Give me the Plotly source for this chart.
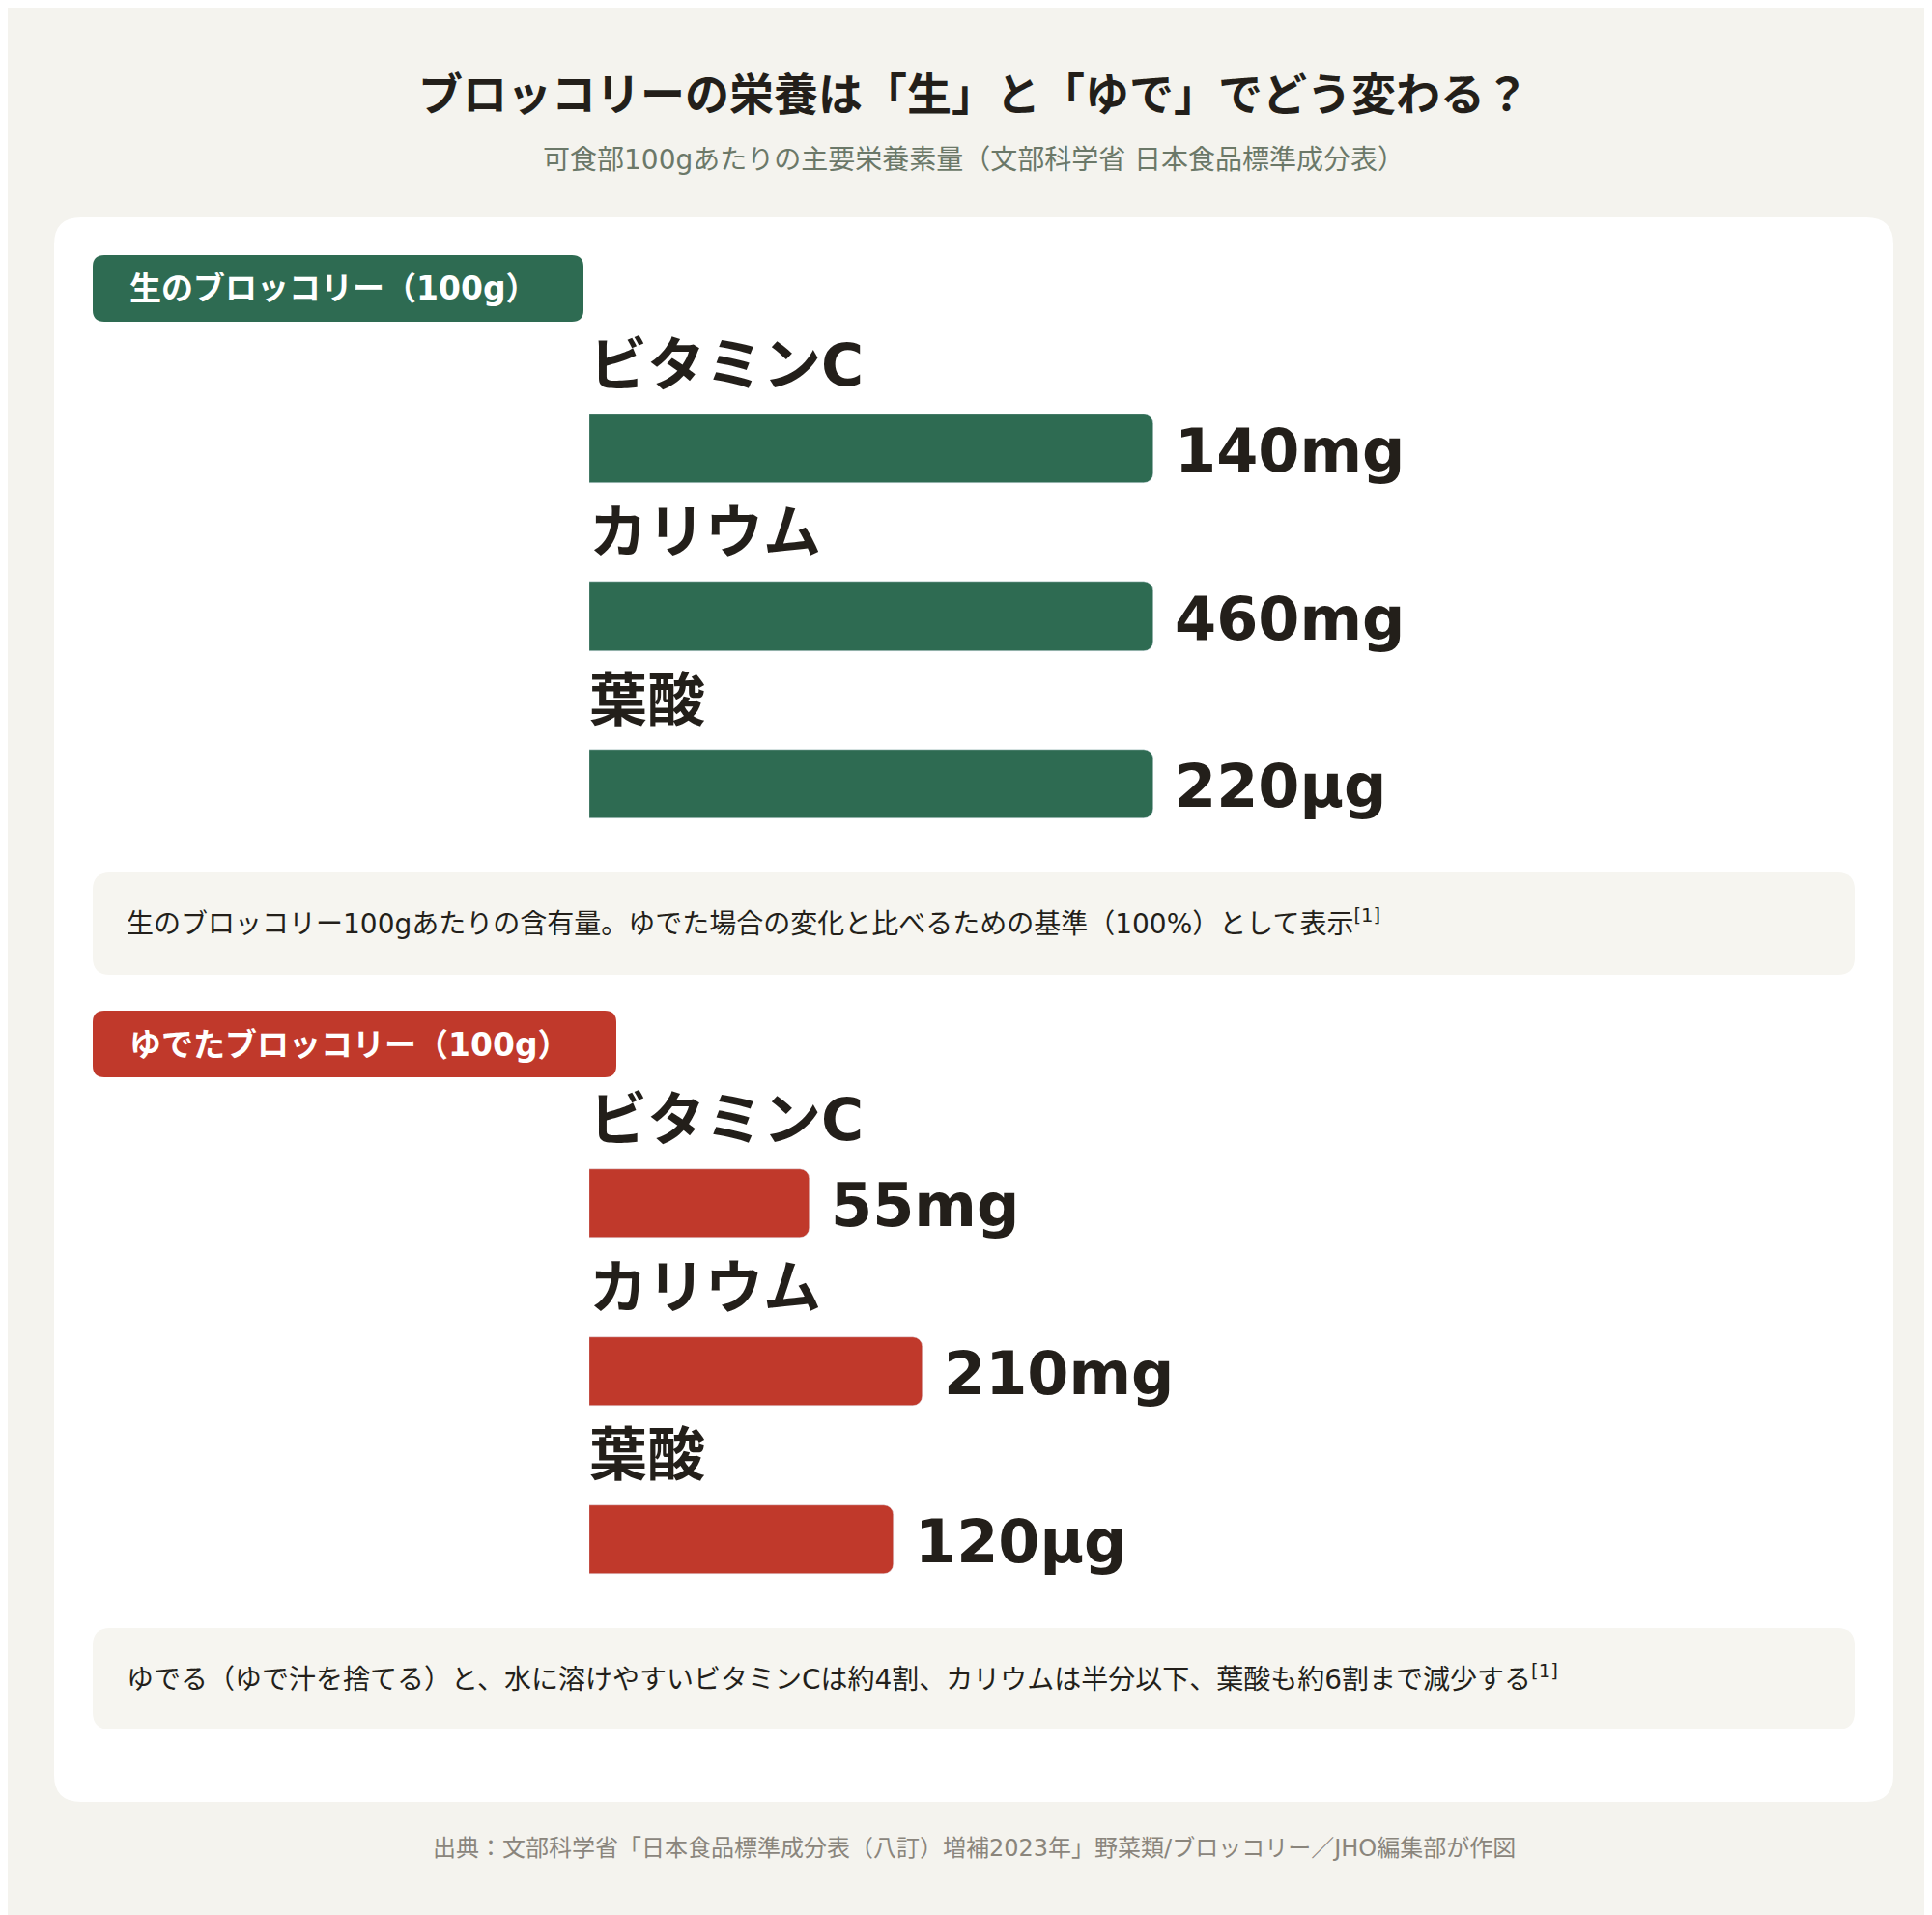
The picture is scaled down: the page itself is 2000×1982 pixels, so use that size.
import plotly.graph_objects as go

W, H = 2000, 1982

nutrients = ["ビタミンC", "カリウム", "葉酸"]
raw_labels = ["140mg", "460mg", "220µg"]
boiled_labels = ["55mg", "210mg", "120µg"]
# bar length (% of raw)
raw_pct = [100, 100, 100]
boiled_pct = [39, 59, 54]

GREEN = "#2e6b52"
RED = "#c0392b"
INK = "#231f1a"
FONT = "DejaVu Sans, Noto Sans CJK JP"


def px(x):
    return x / W


def py(y):
    return 1 - y / H


def rrect(x0, y0, x1, y1, r, fill):
    # rounded rect in pixel coords -> paper path
    p = (f"M {px(x0 + r)},{py(y0)} L {px(x1 - r)},{py(y0)} "
         f"Q {px(x1)},{py(y0)} {px(x1)},{py(y0 + r)} L {px(x1)},{py(y1 - r)} "
         f"Q {px(x1)},{py(y1)} {px(x1 - r)},{py(y1)} L {px(x0 + r)},{py(y1)} "
         f"Q {px(x0)},{py(y1)} {px(x0)},{py(y1 - r)} L {px(x0)},{py(y0 + r)} "
         f"Q {px(x0)},{py(y0)} {px(x0 + r)},{py(y0)} Z")
    return dict(type="path", path=p, xref="paper", yref="paper",
                fillcolor=fill, line=dict(width=0), layer="below")


fig = go.Figure()
panels = [("x", "y", raw_pct, raw_labels, GREEN, 370, 890),
          ("x2", "y2", boiled_pct, boiled_labels, RED, 1151, 1672)]
ann = []
for xa, ya, vals, labs, col, top, bot in panels:
    fig.add_trace(go.Bar(x=vals, y=[0, 1, 2], orientation="h", xaxis=xa, yaxis=ya,
                         marker=dict(color=col, cornerradius=10), width=0.41,
                         hoverinfo="skip", showlegend=False))
    for i, (n, v, lab) in enumerate(zip(nutrients, vals, labs)):
        ann.append(dict(x=0, y=i - 0.5, xref=xa, yref=ya, text=n, showarrow=False,
                        xanchor="left", yanchor="middle", xshift=-2,
                        font=dict(size=60, color=INK, family=FONT, weight="bold")))
        ann.append(dict(x=v, y=i, xref=xa, yref=ya, text=lab, showarrow=False,
                        xanchor="left", yanchor="middle", xshift=20, yshift=-2,
                        font=dict(size=62, color=INK, family=FONT, weight="bold")))

shapes = [rrect(48, 217, 1952, 1857, 28, "white"),
          rrect(88, 256, 596, 325, 12, GREEN),
          rrect(88, 1038, 630, 1107, 12, RED),
          rrect(88, 895, 1912, 1001, 18, "#f6f5f0"),
          rrect(88, 1677, 1912, 1782, 18, "#f6f5f0")]


def pa(x, y, text, size, color, xanchor="center", bold=False):
    return dict(x=x, y=y, xref="paper", yref="paper", showarrow=False, text=text,
                xanchor=xanchor, yanchor="middle",
                font=dict(size=size, color=color, family=FONT,
                          weight="bold" if bold else "normal"))


ann += [
    pa(0.5, py(90), "ブロッコリーの栄養は「生」と「ゆで」でどう変わる？", 46, INK, bold=True),
    pa(0.5, py(157), "可食部100gあたりの主要栄養素量（文部科学省 日本食品標準成分表）", 28, "#6b7868"),
    pa(px(124), py(291), "生のブロッコリー（100g）", 33, "white", "left", True),
    pa(px(124), py(1073), "ゆでたブロッコリー（100g）", 33, "white", "left", True),
    pa(px(121), py(946),
       "生のブロッコリー100gあたりの含有量。ゆでた場合の変化と比べるための基準（100%）として表示<sup>[1]</sup>",
       28, INK, "left"),
    pa(px(121), py(1728),
       "ゆでる（ゆで汁を捨てる）と、水に溶けやすいビタミンCは約4割、カリウムは半分以下、葉酸も約6割まで減少する<sup>[1]</sup>",
       28, INK, "left"),
    pa(0.5, py(1905), "出典：文部科学省「日本食品標準成分表（八訂）増補2023年」野菜類/ブロッコリー／JHO編集部が作図",
       24, "#8a857c"),
]

ax = dict(range=[0, 100], domain=[px(602), px(1186)], visible=False, fixedrange=True)
fig.update_layout(
    width=W, height=H, margin=dict(l=0, r=0, t=0, b=0),
    paper_bgcolor="#f4f3ee", plot_bgcolor="rgba(0,0,0,0)",
    font=dict(family=FONT),
    xaxis=ax, xaxis2=dict(ax, anchor="y2"),
    yaxis=dict(range=[2.5, -0.5], domain=[py(890), py(370)], visible=False),
    yaxis2=dict(range=[2.5, -0.5], domain=[py(1672), py(1151)], visible=False, anchor="x2"),
    shapes=shapes, annotations=ann, bargap=0,
)
fig.write_html("out.html")
